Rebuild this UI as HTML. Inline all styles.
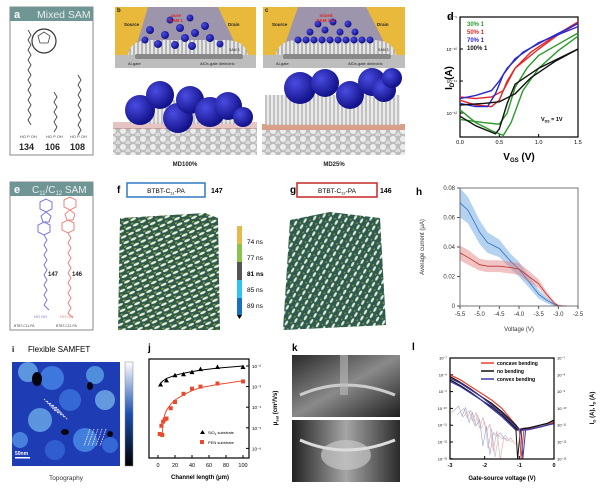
<!DOCTYPE html>
<html><head><meta charset="utf-8"><style>
html,body{margin:0;padding:0;background:#fff;}
svg{display:block;font-family:"Liberation Sans",sans-serif;}
</style></head><body>
<svg id="fig" width="600" height="492" viewBox="0 0 600 492" xmlns="http://www.w3.org/2000/svg">
<defs>
<radialGradient id="ball" cx="35%" cy="35%" r="65%"><stop offset="0" stop-color="#4a4ce0"/><stop offset="1" stop-color="#12128a"/></radialGradient>
<pattern id="rods" width="8" height="6" patternUnits="userSpaceOnUse" patternTransform="rotate(-25)"><rect width="8" height="6" fill="#2f5a48"/><ellipse cx="4" cy="3" rx="3.2" ry="1.3" fill="#e8efe0"/><ellipse cx="1" cy="0.5" rx="1.5" ry="0.8" fill="#8fae3a"/></pattern>
<pattern id="rods2" width="7" height="7" patternUnits="userSpaceOnUse" patternTransform="rotate(30)"><rect width="7" height="7" fill="#2f5a4e"/><ellipse cx="3.5" cy="3.5" rx="1.2" ry="2.8" fill="#dfe9dc"/><ellipse cx="0.5" cy="0.5" rx="0.8" ry="1.4" fill="#7fa03a"/></pattern>
<pattern id="surf" width="10" height="8" patternUnits="userSpaceOnUse"><rect width="10" height="8" fill="#bdbdbd"/><circle cx="3" cy="3" r="3" fill="#ececec"/><circle cx="8" cy="7" r="2.5" fill="#dadada"/></pattern>
<pattern id="chains" width="4" height="6" patternUnits="userSpaceOnUse"><rect width="4" height="6" fill="#e6e6e6"/><line x1="2" y1="0" x2="2" y2="6" stroke="#888" stroke-width="1"/></pattern>
<linearGradient id="cbar" x1="0" y1="1" x2="0" y2="0"><stop offset="0" stop-color="#000"/><stop offset="0.5" stop-color="#1a4fb0"/><stop offset="1" stop-color="#fff"/></linearGradient>
<linearGradient id="photo1" x1="0" y1="0" x2="1" y2="1"><stop offset="0" stop-color="#2a2a2a"/><stop offset="0.5" stop-color="#8a8a8a"/><stop offset="1" stop-color="#1e1e1e"/></linearGradient>
<linearGradient id="photo2" x1="0" y1="0" x2="1" y2="0"><stop offset="0" stop-color="#222"/><stop offset="0.5" stop-color="#a5a5a5"/><stop offset="1" stop-color="#2a2a2a"/></linearGradient>
</defs>

<g>
<rect x="10" y="7" width="83" height="148" fill="#fff" stroke="#888"/>
<rect x="10" y="7" width="83" height="14" fill="#6f9594"/>
<text x="14" y="18" font-size="11" font-weight="bold" fill="#fff">a</text>
<text x="37" y="18" font-size="10.5" fill="#e8f0f0">Mixed SAM</text>
<circle cx="44" cy="41" r="12" fill="#fff" stroke="#333" stroke-width="1.2"/>
<path d="M38 36 l6-4 6 4 -2 7 h-8 z" fill="none" stroke="#444" stroke-width="0.8"/>
<path d="M28 30 l3 5 -3 5 3 5 -3 5 3 5 -3 5 3 5 -3 5 3 5 -3 5 3 5 -3 5 3 5 -3 5 3 5 -3 5 3 5 -3 5 3 5" fill="none" stroke="#444" stroke-width="0.9"/>
<path d="M54 92 l3 5 -3 5 3 5 -3 5 3 5 -3 5 3 5 -3 5" fill="none" stroke="#444" stroke-width="0.9"/>
<path d="M78 75 l3 5 -3 5 3 5 -3 5 3 5 -3 5 3 5 -3 5 3 5 -3 5 3 5 -3 5" fill="none" stroke="#444" stroke-width="0.9"/>
<text x="20" y="138" font-size="4" fill="#444">HO P OH</text><text x="46" y="138" font-size="4" fill="#444">HO P OH</text><text x="70" y="138" font-size="4" fill="#444">HO P OH</text>
<text x="19" y="150" font-size="9" font-weight="bold" fill="#222">134</text>
<text x="45" y="150" font-size="9" font-weight="bold" fill="#222">106</text>
<text x="70" y="150" font-size="9" font-weight="bold" fill="#222">108</text>
</g>

<g>
<rect x="115" y="7" width="141" height="61" fill="#e8b93a"/>
<rect x="115" y="55" width="141" height="13" fill="#bdbdbd"/>
<path d="M148 7 L170 7 L196 7 L218 7 L238 50 L135 50 Z" fill="#8e8ec0" opacity="0.85"/>
<path d="M128 55 Q130 40 150 40 L225 40 Q245 40 248 55 Z" fill="url(#chains)"/>
<rect x="135" y="54" width="108" height="5" fill="#888" rx="2"/>
<g id="bballs"></g>
<text x="117" y="12" font-size="6" font-weight="bold" fill="#222">b</text>
<text x="176" y="17" font-size="4.5" font-weight="bold" fill="#d22" text-anchor="middle">pure</text>
<text x="176" y="22" font-size="4.5" font-weight="bold" fill="#d22" text-anchor="middle">SAM 1</text>
<text x="124" y="26" font-size="4.5" font-weight="bold" fill="#222">Source</text>
<text x="228" y="26" font-size="4.5" font-weight="bold" fill="#222">Drain</text>
<text x="229" y="51" font-size="3.5" fill="#222">SAM 3</text>
<text x="128" y="65" font-size="4" fill="#222">Al-gate</text>
<text x="200" y="65" font-size="4" fill="#222">AlOx-gate dielectric</text>
<rect x="113" y="128" width="144" height="27" fill="url(#surf)"/>
<rect x="113" y="122" width="144" height="7" fill="#b55" opacity="0.35"/>
<rect x="130" y="100" width="110" height="24" fill="url(#chains)" opacity="0.8"/>
<g id="md100balls"></g>
<text x="185" y="166" font-size="6" font-weight="bold" fill="#222" text-anchor="middle">MD100%</text>
</g>
<g>
<rect x="263" y="7" width="142" height="61" fill="#e8b93a"/>
<rect x="263" y="55" width="142" height="13" fill="#bdbdbd"/>
<path d="M298 7 L366 7 L388 50 L283 50 Z" fill="#8e8ec0" opacity="0.85"/>
<path d="M276 55 Q278 40 298 40 L373 40 Q393 40 396 55 Z" fill="url(#chains)"/>
<rect x="283" y="54" width="108" height="5" fill="#888" rx="2"/>
<g id="cballs"></g>
<text x="265" y="12" font-size="6" font-weight="bold" fill="#222">c</text>
<text x="326" y="17" font-size="4.5" font-weight="bold" fill="#d22" text-anchor="middle">mixed</text>
<text x="326" y="22" font-size="4.5" font-weight="bold" fill="#d22" text-anchor="middle">SAM 1+2</text>
<text x="272" y="26" font-size="4.5" font-weight="bold" fill="#222">Source</text>
<text x="377" y="26" font-size="4.5" font-weight="bold" fill="#222">Drain</text>
<text x="378" y="51" font-size="3.5" fill="#222">SAM 3</text>
<text x="276" y="65" font-size="4" fill="#222">Al-gate</text>
<text x="348" y="65" font-size="4" fill="#222">AlOx-gate dielectric</text>
<rect x="262" y="130" width="143" height="25" fill="url(#surf)"/>
<rect x="262" y="124" width="143" height="6" fill="#c0603a" opacity="0.6"/>
<rect x="265" y="95" width="135" height="30" fill="url(#chains)" opacity="0.85"/>
<g id="md25balls"></g>
<text x="334" y="166" font-size="6" font-weight="bold" fill="#222" text-anchor="middle">MD25%</text>
</g>

<g>
<text x="447" y="20" font-size="11" font-weight="bold">d</text>
<rect x="460" y="17" width="118" height="120" fill="none" stroke="#000" stroke-width="1.2"/>
<g id="dAxes"></g><g id="dLines"></g>
<text x="452" y="78" font-size="10" font-weight="bold" transform="rotate(-90 452 78)" text-anchor="middle">I<tspan font-size="6" dy="2">D</tspan><tspan dy="-2"> (A)</tspan></text>
<text x="519" y="160" font-size="10" font-weight="bold" text-anchor="middle">V<tspan font-size="6" dy="2">GS</tspan><tspan dy="-2"> (V)</tspan></text>
<text x="541" y="121" font-size="5.5" font-weight="bold">V<tspan font-size="3.5" dy="1.5">DS</tspan><tspan dy="-1.5"> = 1V</tspan></text>
<g id="dLegend"></g>
</g>

<g>
<rect x="10" y="182" width="83" height="148" fill="#fff" stroke="#888"/>
<rect x="10" y="182" width="83" height="14" fill="#6f9594"/>
<text x="14" y="193" font-size="11" font-weight="bold" fill="#fff">e</text>
<text x="32" y="193" font-size="10" fill="#e8f0f0">C<tspan font-size="6" dy="2">11</tspan><tspan dy="-2">/C</tspan><tspan font-size="6" dy="2">12</tspan><tspan dy="-2"> SAM</tspan></text>
<path d="M40 202 l6-3 6 3 v7 l-6 3 -6-3 z M46 212 l5 4 -2 6 -6 0 -2-6 z M44 222 l6 3 v7 l-6 3 -6-3 v-7 z M44 235 l3 5 -3 5 3 5 -3 5 3 5 -3 5 3 5 -3 5 3 5 -3 5 3 5 -3 5 3 5 -3 5 l5 5" fill="none" stroke="#7a74e0" stroke-width="1"/>
<path d="M64 200 l6-3 6 3 v7 l-6 3 -6-3 z M70 210 l5 4 -2 6 -6 0 -2-6 z M68 220 l6 3 v7 l-6 3 -6-3 v-7 z M68 233 l3 5 -3 5 3 5 -3 5 3 5 -3 5 3 5 -3 5 3 5 -3 5 3 5 -3 5 3 5 -3 5 3 5 -3 5 l5 5" fill="none" stroke="#ea8383" stroke-width="1"/>
<text x="48" y="276" font-size="6" font-weight="bold" fill="#222">147</text>
<text x="72" y="276" font-size="6" font-weight="bold" fill="#222">146</text>
<text x="34" y="318" font-size="4" fill="#7a74e0">HO  OH</text><text x="60" y="318" font-size="4" fill="#ea8383">HO  OH</text>
<text x="14" y="327" font-size="3.3" fill="#444">BTBT-C11-PA</text><text x="56" y="327" font-size="3.3" fill="#444">BTBT-C12-PA</text>
</g>

<g>
<text x="117" y="193" font-size="10" font-weight="bold">f</text>
<rect x="127" y="183" width="78" height="14" fill="#fff" stroke="#2f78c4" stroke-width="1.5"/>
<text x="166" y="193" font-size="6.5" text-anchor="middle">BTBT-C<tspan font-size="4" dy="1.5">11</tspan><tspan dy="-1.5">-PA</tspan></text>
<text x="211" y="193" font-size="7" font-weight="bold">147</text>
<path d="M120 218 L205 213 L218 218 L220 330 L118 330 Z" fill="url(#rods)"/>
</g>
<g>
<rect x="237" y="226" width="5" height="18" fill="#e8b94a"/><rect x="237" y="244" width="5" height="18" fill="#8bc34a"/>
<rect x="237" y="262" width="5" height="18" fill="#555"/><rect x="237" y="280" width="5" height="18" fill="#2ec4f0"/>
<rect x="237" y="298" width="5" height="17" fill="#1a6fc0"/>
<path d="M237 315 l2.5 4 2.5-4 z" fill="#000"/>
<text x="247" y="244" font-size="6.5">74 ns</text><text x="247" y="260" font-size="6.5">77 ns</text>
<text x="247" y="276" font-size="6.5" font-weight="bold">81 ns</text><text x="247" y="292" font-size="6.5">85 ns</text>
<text x="247" y="308" font-size="6.5">89 ns</text>
</g>
<g>
<text x="290" y="193" font-size="10" font-weight="bold">g</text>
<rect x="297" y="183" width="80" height="14" fill="#fff" stroke="#c42828" stroke-width="1.5"/>
<text x="337" y="193" font-size="6.5" text-anchor="middle">BTBT-C<tspan font-size="4" dy="1.5">12</tspan><tspan dy="-1.5">-PA</tspan></text>
<text x="380" y="193" font-size="7" font-weight="bold">146</text>
<path d="M290 220 L330 212 L380 218 L386 325 L283 330 Z" fill="url(#rods2)"/>
</g>

<g>
<text x="416" y="195" font-size="10" font-weight="bold">h</text>
<g id="hAxes"></g><g id="hLines"></g>
<rect x="460" y="188" width="118" height="118" fill="none" stroke="#555" stroke-width="0.8"/>
<text x="424" y="247" font-size="6" fill="#333" transform="rotate(-90 424 247)" text-anchor="middle">Average current (μA)</text>
<text x="519" y="331" font-size="6" fill="#333" text-anchor="middle">Voltage (V)</text>
</g>

<g>
<text x="12" y="352" font-size="8" font-weight="bold">i</text>
<text x="28" y="352" font-size="8">Flexible SAMFET</text>
<rect x="12" y="362" width="108" height="104" fill="#1e3cb4"/>
<g id="afm"></g>
<rect x="125" y="362" width="8" height="104" fill="url(#cbar)" stroke="#888" stroke-width="0.5"/>
<rect x="15" y="457" width="15" height="1.5" fill="#fff"/>
<text x="15" y="455" font-size="5" font-weight="bold" fill="#fff">50nm</text>
<text x="66" y="480" font-size="6.5" text-anchor="middle" fill="#333">Topography</text>
</g>

<g>
<text x="148" y="351" font-size="10" font-weight="bold">j</text>
<g id="jAxes"></g><g id="jLines"></g>
<rect x="149" y="359" width="100" height="99" fill="none" stroke="#000" stroke-width="1.2"/>
<text x="200" y="479" font-size="6" font-weight="bold" text-anchor="middle">Channel length (μm)</text>
<text x="277" y="408" font-size="6" font-weight="bold" transform="rotate(-90 277 408)" text-anchor="middle">μ<tspan font-size="4" dy="1.5">sat</tspan><tspan dy="-1.5"> (cm²/Vs)</tspan></text>
<path d="M200 434 l2.5-4 2.5 4z" fill="#000"/><text x="208" y="434" font-size="4">SiO<tspan font-size="3" dy="1">2</tspan><tspan dy="-1"> substrate</tspan></text>
<rect x="200" y="440" width="4" height="4" fill="#e84a2e"/><text x="208" y="444" font-size="4">PEN substrate</text>
</g>

<g>
<text x="292" y="351" font-size="10" font-weight="bold">k</text>
<rect x="292" y="355" width="108" height="62" fill="url(#photo1)"/>
<path d="M300 395 Q345 375 395 395" stroke="#ccc" stroke-width="3" fill="none"/>
<rect x="340" y="355" width="8" height="40" fill="#bbb" opacity="0.6"/>
<rect x="292" y="420" width="108" height="62" fill="url(#photo2)"/>
<ellipse cx="346" cy="455" rx="25" ry="15" fill="#c8c8c8" opacity="0.7"/>
<path d="M300 440 Q345 460 395 440" stroke="#ddd" stroke-width="3" fill="none"/>
</g>

<g>
<text x="412" y="350" font-size="10" font-weight="bold">l</text>
<g id="lAxes"></g><g id="lLines"></g>
<rect x="450" y="358" width="104" height="101" fill="none" stroke="#000" stroke-width="1.2"/>
<text x="502" y="480" font-size="6" font-weight="bold" text-anchor="middle">Gate-source voltage (V)</text>
<text x="594" y="408" font-size="6" font-weight="bold" transform="rotate(-90 594 408)" text-anchor="middle">I<tspan font-size="4" dy="1.5">G</tspan><tspan dy="-1.5"> (A), I</tspan><tspan font-size="4" dy="1.5">D</tspan><tspan dy="-1.5"> (A)</tspan></text>
<g id="lLegend"></g>
</g>
</svg>
<script>
const dTicksX = [0, 0.5, 1.0, 1.5];
const dTickLabelsX = ["0.0", "0.5", "1.0", "1.5"];
const dTicksY = [-9, -10, -11, -12];
const dTickLabelsY = ["10⁻⁹", "10⁻¹⁰", "10⁻¹¹", "10⁻¹²"];
const dNames = ["30%", "50%", "70%", "100%"];
const dColors = ["#2a9a2a", "#e02828", "#2a2ad0", "#111"];
const dGreenA = [[0,-11.9],[0.2,-12.3],[0.4,-12.55],[0.55,-12.7],[0.65,-12.3],[0.8,-11.3],[1.0,-10.6],[1.25,-10.05],[1.5,-9.6]];
const dGreenB = [[0,-12.2],[0.3,-12.3],[0.5,-12.35],[0.6,-12.0],[0.7,-11.2],[0.85,-10.6],[1.0,-10.2],[1.25,-9.85],[1.5,-9.5]];
const dRedA = [[0,-11.5],[0.2,-11.55],[0.4,-11.5],[0.55,-11.3],[0.7,-10.6],[0.9,-10.1],[1.2,-9.6],[1.5,-9.15]];
const dRedB = [[0,-11.6],[0.2,-11.75],[0.4,-11.8],[0.5,-11.6],[0.6,-11.0],[0.7,-10.6],[1.0,-10.0],[1.25,-9.55],[1.5,-9.2]];
const dBlueA = [[0,-11.55],[0.2,-11.45],[0.4,-11.3],[0.5,-11.0],[0.6,-10.6],[0.8,-10.1],[1.1,-9.7],[1.5,-9.2]];
const dBlueB = [[0,-11.7],[0.2,-11.8],[0.35,-11.8],[0.45,-11.4],[0.55,-10.8],[0.7,-10.3],[1.0,-9.8],[1.5,-9.3]];
const dBlackA = [[0,-11.75],[0.3,-11.7],[0.5,-11.65],[0.7,-11.4],[0.9,-10.9],[1.2,-10.4],[1.5,-10.0]];
const dBlackB = [[0,-12.1],[0.2,-12.4],[0.45,-12.65],[0.5,-12.5],[0.6,-11.7],[0.7,-11.1],[1.0,-10.6],[1.25,-10.3],[1.5,-10.0]];
const hTicksX = [-5.5,-5.0,-4.5,-4.0,-3.5,-3.0,-2.5];
const hTicksY = [0,0.02,0.04,0.06,0.08];
const hTickLabelsY = ["0","0.02","0.04","0.06","0.08"];
const hVolt = [-5.5,-5.3,-5.0,-4.8,-4.5,-4.2,-4.0,-3.8,-3.5,-3.3,-3.1,-3.0,-2.8];
const hBlue = [0.070,0.065,0.050,0.043,0.039,0.030,0.025,0.018,0.008,0.004,0.001,0,0];
const hBlueErr = [0.010,0.009,0.008,0.007,0.006,0.005,0.005,0.004,0.003,0.002,0.001,0.001,0];
const hRed = [0.036,0.033,0.028,0.027,0.027,0.026,0.025,0.021,0.015,0.008,0.002,0,0];
const hRedErr = [0.005,0.005,0.004,0.004,0.004,0.004,0.004,0.004,0.003,0.002,0.001,0.001,0];
const jTicksX = [0,20,40,60,80,100];
const jTicksY = [-2,-3,-4,-5,-6];
const jTickLabelsY = ["10⁻²","10⁻³","10⁻⁴","10⁻⁵","10⁻⁶"];
const jSiO2L = [3,10,20,30,40,50,70,100];
const jSiO2Mu = [-2.9,-2.7,-2.45,-2.4,-2.3,-2.15,-2.05,-2.05];
const jPenL = [2,4,5,6,8,10,15,20,30,40,50,70,100];
const jPenMu = [-5.3,-4.9,-5.35,-4.7,-4.6,-4.55,-4.05,-3.75,-3.35,-3.1,-3.0,-2.85,-2.75];
const jFitSiO2L = [3,5,10,20,30,40,50,70,100];
const jFitSiO2 = [-2.85,-2.75,-2.6,-2.45,-2.35,-2.27,-2.2,-2.1,-2.0];
const jFitPenL = [5,6,8,10,15,20,30,40,50,70,100];
const jFitPen = [-5.3,-4.7,-4.35,-4.15,-3.85,-3.65,-3.4,-3.2,-3.05,-2.9,-2.72];
const lTicksX = [-3,-2,-1,0];
const lTicksY = [-7,-8,-9,-10,-11,-12,-13];
const lTickLabelsY = ["10⁻⁷","10⁻⁸","10⁻⁹","10⁻¹⁰","10⁻¹¹","10⁻¹²","10⁻¹³"];
const lNames = ["concave bending","no bending","convex bending"];
const lColors = ["#e8402a","#111","#3a3aa8"];
const lV = [-3,-2.7,-2.4,-2.1,-1.8,-1.5,-1.3,-1.1,-1.0,-0.9,-0.7,-0.4,-0.2,0];
const lConcave = [-8.0,-8.3,-8.7,-9.1,-9.5,-10.0,-10.5,-11.0,-11.3,-11.3,-11.2,-11.1,-11.0,-10.8];
const lNoBend = [-8.1,-8.45,-8.85,-9.3,-9.7,-10.2,-10.6,-11.0,-11.25,-11.2,-11.15,-11.0,-10.9,-10.7];
const lConvex = [-8.2,-8.5,-8.9,-9.3,-9.8,-10.3,-10.7,-11.1,-11.3,-11.3,-11.25,-11.1,-11.0,-10.9];
const lGateV = [-2.8,-2.6,-2.5,-2.4,-2.3,-2.2,-2.1,-2.0,-1.9,-1.8,-1.7,-1.6,-1.5,-1.4,-1.3,-1.2];
const lGate = [-10.4,-10.0,-10.6,-10.1,-11.0,-10.4,-11.2,-10.8,-12.4,-11.2,-12.9,-11.6,-11.8,-11.6,-11.9,-12.0];

const NS = "http://www.w3.org/2000/svg";
function mk(tag, attrs, parent){const e=document.createElementNS(NS,tag);for(const k in attrs)e.setAttribute(k,attrs[k]);parent.appendChild(e);return e;}
function txt(s,attrs,parent){const e=mk("text",attrs,parent);e.textContent=s;return e;}
function pathD(pts){return pts.map((p,i)=>(i?"L":"M")+p[0].toFixed(1)+" "+p[1].toFixed(1)).join(" ");}

(function(){
 const specs=[["bballs",[[150,30,4],[165,35,4],[180,28,4],[195,33,4],[210,38,4],[158,44,4],[175,45,4],[192,46,4],[205,26,4],[145,40,3.5],[220,44,3.5],[185,38,4],[170,20,3.5],[190,18,3.5]]],
 ["cballs",[[298,40,3.5],[306,40,3.5],[314,40,3.5],[322,40,3.5],[330,40,3.5],[338,40,3.5],[346,40,3.5],[354,40,3.5],[362,40,3.5],[370,40,3.5],[310,32,3.5],[325,30,3.5],[340,32,3.5],[355,32,3.5],[318,24,3.5],[333,22,3.5],[348,24,3.5]]],
 ["md100balls",[[140,110,15],[160,95,14],[178,118,15],[190,100,14],[210,112,15],[228,106,14],[243,117,10]]],
 ["md25balls",[[300,88,16],[325,83,14],[350,95,14],[372,82,14],[384,90,12],[392,78,10]]]];
 specs.forEach(([id,arr])=>{const g=document.getElementById(id);arr.forEach(c=>{
  const e=mk("circle",{cx:c[0],cy:c[1],r:c[2],fill:"url(#ball)"},g);
  
  
 });});
 const afm=document.getElementById("afm");
 const blobs=[[28,372,10,"#8fe0ff"],[52,378,12,"#5aa8ff"],[95,375,9,"#7ad0ff"],[105,400,10,"#9fe8ff"],[40,420,12,"#8fdcff"],[70,400,11,"#4a8cf0"],[85,440,12,"#5fb4ff"],[55,450,10,"#3f7ae8"],[20,440,8,"#6ab8ff"],[110,445,8,"#4a8cf0"]];
 blobs.forEach(b=>{const e=mk("circle",{cx:b[0],cy:b[1],r:b[2],fill:b[3],opacity:0.55},afm);
  
  });
 [[37,379,5,7],[90,386,3,4],[65,432,4,3],[110,434,3,3]].forEach(b=>{const e=mk("ellipse",{cx:b[0],cy:b[1],rx:b[2],ry:b[3],fill:"#050510"},afm);
  
  });
 for(let i=0;i<5;i++){mk("line",{x1:44+i*3,y1:399+i*2,x2:56+i*3,y2:412+i*2,stroke:"#fff","stroke-width":0.8,"stroke-dasharray":"1.5 1"},afm);
  mk("line",{x1:90+i*4,y1:429,x2:84+i*4,y2:446,stroke:"#fff","stroke-width":0.8,"stroke-dasharray":"1.5 1"},afm);}
})();

(function(){
 const X=v=>460+v/1.5*118, Y=l=>17+(-9-l)*32;
 const ax=document.getElementById("dAxes"), ln=document.getElementById("dLines"), lg=document.getElementById("dLegend");
 dTicksX.forEach((t,i)=>{mk("line",{x1:X(t),y1:137,x2:X(t),y2:134,stroke:"#000"},ax);
  const e=txt(dTickLabelsX[i],{x:X(t),y:144,"font-size":5.5,"text-anchor":"middle"},ax);
  
  });
 dTicksY.forEach((t,i)=>{mk("line",{x1:460,y1:Y(t),x2:463,y2:Y(t),stroke:"#000"},ax);
  const e=txt(dTickLabelsY[i],{x:457,y:Y(t)+2,"font-size":4.5,"text-anchor":"end"},ax);
  
  });
 const series=[[dGreenA,dGreenB],[dRedA,dRedB],[dBlueA,dBlueB],[dBlackA,dBlackB]];
 series.forEach((pair,si)=>pair.forEach(s=>{
  const p=mk("path",{d:pathD(s.map(q=>[X(q[0]),Y(q[1])])),fill:"none",stroke:dColors[si],"stroke-width":1.4},ln);
  
  }));
 dNames.forEach((n,i)=>{const e=txt(n+" 1",{x:467,y:26+i*8,"font-size":6,"font-weight":"bold",fill:dColors[i]},lg);
  
  });
})();

(function(){
 const X=v=>460+(v+5.5)/3*118, Y=c=>306-c/0.08*118;
 const ax=document.getElementById("hAxes"), ln=document.getElementById("hLines");
 hTicksX.forEach(t=>{mk("line",{x1:X(t),y1:306,x2:X(t),y2:309,stroke:"#555"},ax);
  const e=txt(t.toFixed(1),{x:X(t),y:316,"font-size":6,"text-anchor":"middle",fill:"#333"},ax);
  
  });
 hTicksY.forEach((t,i)=>{mk("line",{x1:457,y1:Y(t),x2:460,y2:Y(t),stroke:"#555"},ax);
  const e=txt(hTickLabelsY[i],{x:455,y:Y(t)+2,"font-size":6,"text-anchor":"end",fill:"#333"},ax);
  
  });
 [[hBlue,hBlueErr,"#5a9ee0","#2a6ec0","blue"],[hRed,hRedErr,"#e07a7a","#c03030","red"]].forEach(([m,er,fc,lc,nm])=>{
  const up=hVolt.map((v,i)=>[X(v),Y(m[i]+er[i])]), dn=hVolt.map((v,i)=>[X(v),Y(Math.max(0,m[i]-er[i]))]).reverse();
  const b=mk("path",{d:pathD(up.concat(dn))+"Z",fill:fc,opacity:0.45},ln);
  
  
  const l=mk("path",{d:pathD(hVolt.map((v,i)=>[X(v),Y(m[i])])),fill:"none",stroke:lc,"stroke-width":0.8},ln);
  
  
 });
})();

(function(){
 const X=L=>158+L*0.85, Y=l=>366+(-2-l)*20.6;
 const ax=document.getElementById("jAxes"), ln=document.getElementById("jLines");
 jTicksX.forEach(t=>{mk("line",{x1:X(t),y1:458,x2:X(t),y2:455,stroke:"#000"},ax);
  const e=txt(String(t),{x:X(t),y:467,"font-size":5.5,"text-anchor":"middle"},ax);
  
  });
 jTicksY.forEach((t,i)=>{mk("line",{x1:249,y1:Y(t),x2:246,y2:Y(t),stroke:"#000"},ax);
  const e=txt(jTickLabelsY[i],{x:252,y:Y(t)+2,"font-size":4.5},ax);
  
  });
 const f1=mk("path",{d:pathD(jFitSiO2L.map((L,i)=>[X(L),Y(jFitSiO2[i])])),fill:"none",stroke:"#000","stroke-width":1},ln);
 
 
 const f2=mk("path",{d:pathD(jFitPenL.map((L,i)=>[X(L),Y(jFitPen[i])])),fill:"none",stroke:"#e84a2e","stroke-width":1},ln);
 
 
 jSiO2L.forEach((L,i)=>{const x=X(L),y=Y(jSiO2Mu[i]);
  const p=mk("path",{d:`M${x-2.5} ${y+2} L${x} ${y-2.5} L${x+2.5} ${y+2}Z`,fill:"#000"},ln);
  
  });
 jPenL.forEach((L,i)=>{const r=mk("rect",{x:X(L)-2,y:Y(jPenMu[i])-2,width:4,height:4,fill:"#e84a2e"},ln);
  
  });
})();

(function(){
 const X=v=>450+(v+3)/3*104, Y=l=>358+(-7-l)*16.8;
 const ax=document.getElementById("lAxes"), ln=document.getElementById("lLines"), lg=document.getElementById("lLegend");
 lTicksX.forEach(t=>{mk("line",{x1:X(t),y1:459,x2:X(t),y2:456,stroke:"#000"},ax);
  const e=txt(String(t),{x:X(t),y:467,"font-size":5.5,"font-weight":"bold","text-anchor":"middle"},ax);
  
  });
 lTicksY.forEach((t,i)=>{mk("line",{x1:450,y1:Y(t),x2:453,y2:Y(t),stroke:"#000"},ax);
  const a=txt(lTickLabelsY[i],{x:447,y:Y(t)+1.5,"font-size":4,"text-anchor":"end"},ax);
  
  
  const b=txt(lTickLabelsY[i],{x:557,y:Y(t)+1.5,"font-size":4},ax);
  
  });
 [["#bbb",0],["#e8a0a0",0.15],["#a0a0d0",-0.15]].forEach(([c,o])=>{
  const g=mk("path",{d:pathD(lGateV.map((v,i)=>[X(v+o),Y(lGate[i]-o)])),fill:"none",stroke:c,"stroke-width":0.6},ln);
  
  });
 [lConcave,lNoBend,lConvex].forEach((s,si)=>{
  [0,0.2].forEach(off=>{
   const p=mk("path",{d:pathD(lV.map((v,i)=>[X(v),Y(s[i]-(i<8?off:0))])),fill:"none",stroke:lColors[si],"stroke-width":1.2},ln);
   
   });
 });
 [["#111",-1.05],["#e8402a",-0.95],["#3a3aa8",-0.9]].forEach(([c,v])=>{
  const s=mk("path",{d:`M${X(v-0.05)} ${Y(-11.2)} L${X(v)} ${Y(-13)} L${X(v+0.08)} ${Y(-11.3)}`,fill:"none",stroke:c,"stroke-width":1},ln);
  
  });
 lNames.forEach((n,i)=>{mk("line",{x1:481,y1:363+i*8,x2:494,y2:363+i*8,stroke:lColors[i],"stroke-width":1.5},lg);
  const e=txt(n,{x:497,y:365+i*8,"font-size":5,"font-weight":"bold"},lg);
  
  });
})();
</script>
</body></html>
